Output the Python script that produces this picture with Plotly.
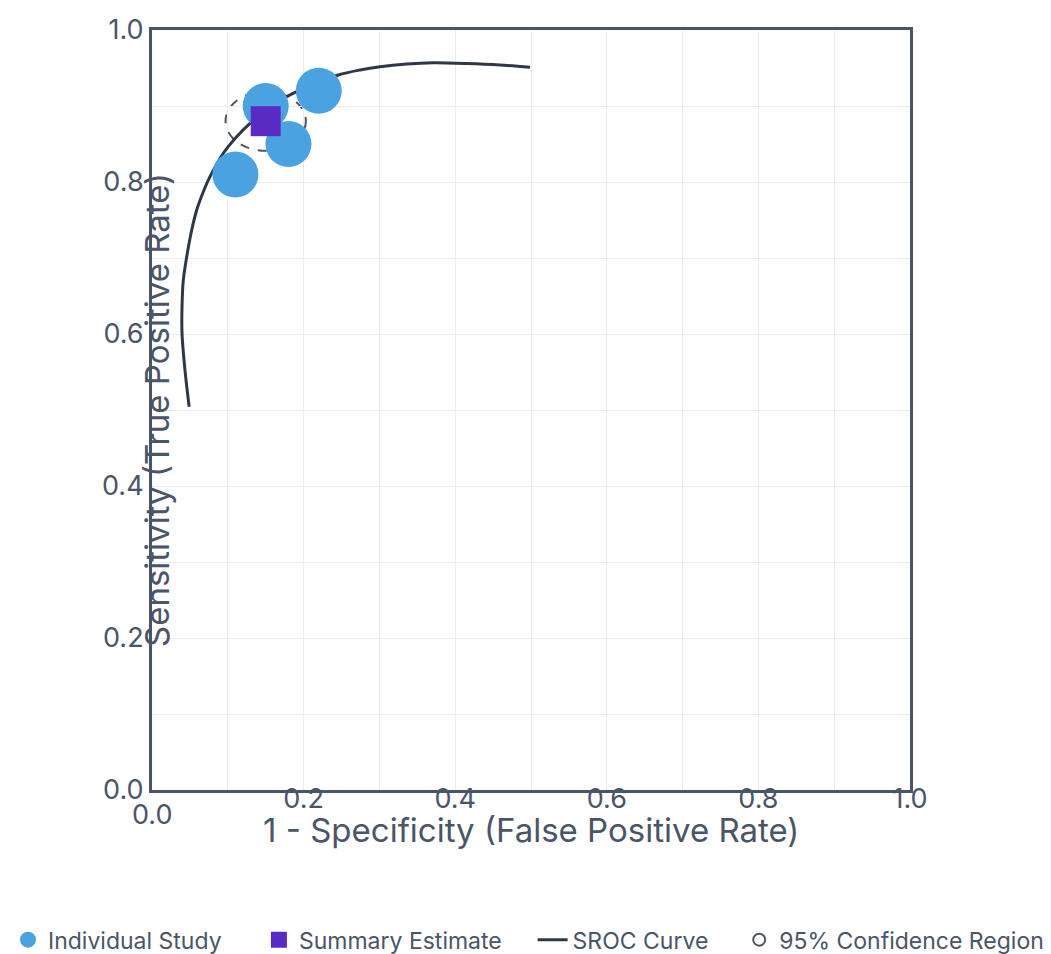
import plotly.graph_objects as go

# ---- data ----
study_fpr = [0.15, 0.22, 0.18, 0.11]
study_tpr = [0.90, 0.92, 0.85, 0.81]

summary_fpr = [0.15]
summary_tpr = [0.88]

sroc_fpr = [0.049, 0.0435, 0.0396, 0.0396, 0.0413, 0.0458, 0.0524, 0.059, 0.0677, 0.0765,
            0.0941, 0.1117, 0.1293, 0.160, 0.1909, 0.2458, 0.2744, 0.3008, 0.336, 0.371,
            0.415, 0.459, 0.4987]
sroc_tpr = [0.5043, 0.5526, 0.6009, 0.6359, 0.6711, 0.7017, 0.7368, 0.7632, 0.7872, 0.807,
            0.8378, 0.8596, 0.8772, 0.902, 0.9188, 0.9408, 0.9474, 0.9517, 0.9553, 0.957,
            0.956, 0.954, 0.951]

ci_center = (0.15, 0.88)
ci_radius = (0.053, 0.039)

y_tickvals = [0.0, 0.2, 0.4, 0.6, 0.8, 1.0]
y_ticktext = ["0.0", "0.2", "0.4", "0.6", "0.8", "1.0"]
x_tickvals = [0.2, 0.4, 0.6, 0.8, 1.0]
x_ticktext = ["0.2", "0.4", "0.6", "0.8", "1.0"]

legend_names = ["Individual Study", "Summary Estimate", "SROC Curve", "95% Confidence Region"]

FONT = "Inter"
TXT = "#4a5568"
AXIS = "#4a5568"
GRID = "#e8ecf3"
BLUE = "#4aa3e0"
PURPLE = "#5a2bc4"
LINE = "#2d3748"
NB = "\u00a0"  # non-breaking space used as extra spacing between legend entries

fig = go.Figure()

fig.add_trace(go.Scatter(
    x=sroc_fpr, y=sroc_tpr, mode="lines", name=legend_names[2] + NB * 4,
    line=dict(color=LINE, width=3, shape="spline", smoothing=0.8),
    legendrank=3, hoverinfo="skip"))

fig.add_trace(go.Scatter(
    x=study_fpr, y=study_tpr, mode="markers", name=legend_names[0] + NB * 5,
    marker=dict(color=BLUE, size=46, symbol="circle", line=dict(width=0)),
    legendrank=1))

fig.add_trace(go.Scatter(
    x=summary_fpr, y=summary_tpr, mode="markers", name=legend_names[1] + NB * 4,
    marker=dict(color=PURPLE, size=30, symbol="square", line=dict(width=0)),
    legendrank=2))

fig.add_shape(
    type="circle", xref="x", yref="y",
    x0=ci_center[0] - ci_radius[0], x1=ci_center[0] + ci_radius[0],
    y0=ci_center[1] - ci_radius[1], y1=ci_center[1] + ci_radius[1],
    line=dict(color="#4b5563", width=2, dash="dash"),
    fillcolor="rgba(0,0,0,0)", layer="below",
    showlegend=True, name=legend_names[3], legendrank=4)

# axis titles and the lowered 0.0 x label
fig.add_annotation(text="1 - Specificity (False Positive Rate)", x=0.5, y=0,
                   xref="x domain", yref="y domain", xanchor="center", yanchor="middle",
                   yshift=-40, showarrow=False, font=dict(family=FONT, size=33, color=TXT))
fig.add_annotation(text="Sensitivity (True Positive Rate)", x=0, y=0.5,
                   xref="x domain", yref="y domain", xanchor="center", yanchor="middle",
                   xshift=5, textangle=-90, showarrow=False,
                   font=dict(family=FONT, size=33, color=TXT))
fig.add_annotation(text="0.0", x=0, y=0, xref="x", yref="y domain",
                   xanchor="center", yanchor="middle", yshift=-24, showarrow=False,
                   font=dict(family=FONT, size=27, color=TXT))

fig.update_xaxes(range=[0, 1], domain=[144 / 1051, 902 / 1051],
                 tickvals=x_tickvals, ticktext=x_ticktext,
                 showline=True, linecolor=AXIS, linewidth=3, mirror=True,
                 showgrid=True, gridcolor=GRID, gridwidth=1, zeroline=False,
                 minor=dict(dtick=0.1, tick0=0, showgrid=True, gridcolor=GRID, gridwidth=1),
                 ticks="", tickfont=dict(family=FONT, size=27, color=TXT),
                 ticklabelstandoff=-17)
fig.update_yaxes(range=[0, 1], tickvals=y_tickvals, ticktext=y_ticktext,
                 showline=True, linecolor=AXIS, linewidth=3, mirror=True,
                 showgrid=True, gridcolor=GRID, gridwidth=1, zeroline=False,
                 minor=dict(dtick=0.1, tick0=0, showgrid=True, gridcolor=GRID, gridwidth=1),
                 ticks="", tickfont=dict(family=FONT, size=27, color=TXT))

fig.update_layout(
    width=1051, height=954,
    margin=dict(l=0, r=0, t=22, b=172, autoexpand=False),
    paper_bgcolor="white", plot_bgcolor="white",
    font=dict(family=FONT, color=TXT),
    showlegend=True,
    legend=dict(orientation="h", x=0, xanchor="left", xref="paper",
                y=-0.197, yanchor="middle",
                font=dict(family=FONT, size=23, color=TXT)),
)

fig.write_html("out.html")
